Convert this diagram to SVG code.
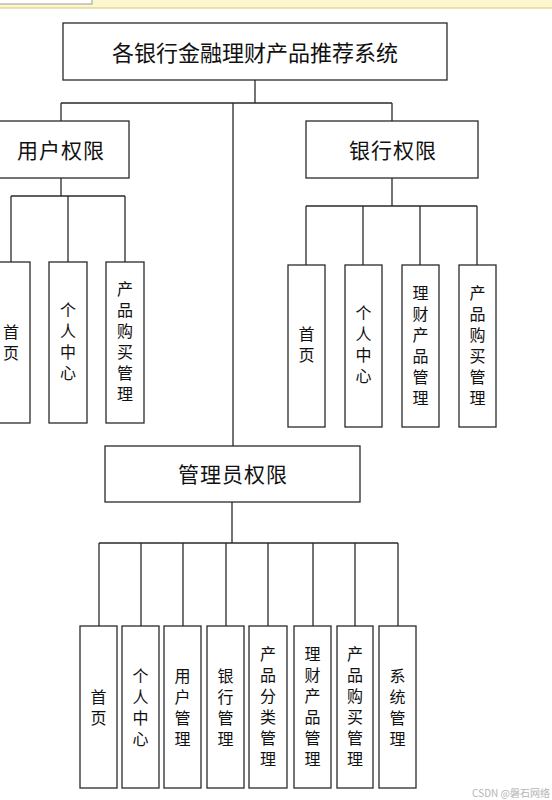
<svg xmlns="http://www.w3.org/2000/svg" width="552" height="800" viewBox="0 0 552 800">
<style>
.box{fill:#fff;stroke:#2a2a2a;stroke-width:1.3}
.ln{fill:none;stroke:#2a2a2a;stroke-width:1.3}
.t{font-family:"Noto Sans CJK SC","Noto Sans",sans-serif;fill:#111;text-anchor:middle;dominant-baseline:central}
.big{font-size:21px;letter-spacing:1px}
.v{font-family:"Noto Sans CJK SC","Noto Sans",sans-serif;fill:#111;font-size:16px;letter-spacing:5px;writing-mode:vertical-rl;text-anchor:middle}
</style>
<rect x="0" y="0" width="552" height="800" fill="#fff"/>
<rect x="0" y="0" width="552" height="8" fill="#fdf7cf"/>
<line x1="0" y1="8" x2="552" y2="8" stroke="#d9c670" stroke-width="1"/>
<rect x="-1" y="-1" width="93" height="5" fill="#fff" stroke="#999" stroke-width="1"/>

<g id="connectors">
<path class="ln" d="M255 80V103M61 103H392M61 103V121M392 103V121M233 103V446"/>
<path class="ln" d="M61 178V196M11 196H125M11 196V262M68 196V262M125 196V262"/>
<path class="ln" d="M392 178V206M306 206H477M306 206V265M363 206V265M420 206V265M477 206V265"/>
<path class="ln" d="M232 502V543M99 543H398M99 543V626M141 543V626M183 543V626M226 543V626M268 543V626M313 543V626M355 543V626M398 543V626"/>
</g>

<g id="root"><rect class="box" x="63" y="23" width="384" height="57"/><text class="t" x="255" y="51" font-size="22">各银行金融理财产品推荐系统</text></g>

<g id="user"><rect class="box" x="-8" y="121" width="137" height="57"/><text class="t big" x="61" y="149">用户权限</text></g>
<g id="bank"><rect class="box" x="306" y="121" width="172" height="57"/><text class="t big" x="393" y="149">银行权限</text></g>
<g id="admin"><rect class="box" x="105" y="446" width="255" height="56"/><text class="t big" x="233" y="473">管理员权限</text></g>

<g id="u1"><rect class="box" x="-8" y="262" width="38" height="161"/><text class="v" x="11" y="345">首页</text></g>
<g id="u2"><rect class="box" x="49" y="262" width="38" height="161"/><text class="v" x="68" y="344">个人中心</text></g>
<g id="u3"><rect class="box" x="106" y="262" width="38" height="161"/><text class="v" x="125" y="344">产品购买管理</text></g>

<g id="b1"><rect class="box" x="288" y="265" width="37" height="162"/><text class="v" x="306.5" y="347">首页</text></g>
<g id="b2"><rect class="box" x="345" y="265" width="37" height="162"/><text class="v" x="363.5" y="347">个人中心</text></g>
<g id="b3"><rect class="box" x="402" y="265" width="37" height="162"/><text class="v" x="420.5" y="348">理财产品管理</text></g>
<g id="b4"><rect class="box" x="459" y="265" width="37" height="162"/><text class="v" x="477.5" y="348">产品购买管理</text></g>

<g id="a1"><rect class="box" x="80" y="626" width="37" height="162"/><text class="v" x="98.5" y="710">首页</text></g>
<g id="a2"><rect class="box" x="122" y="626" width="37" height="162"/><text class="v" x="140.5" y="710">个人中心</text></g>
<g id="a3"><rect class="box" x="164" y="626" width="37" height="162"/><text class="v" x="182.5" y="710">用户管理</text></g>
<g id="a4"><rect class="box" x="207" y="626" width="37" height="162"/><text class="v" x="225.5" y="710">银行管理</text></g>
<g id="a5"><rect class="box" x="249" y="626" width="38" height="162"/><text class="v" x="268" y="709">产品分类管理</text></g>
<g id="a6"><rect class="box" x="294" y="626" width="37" height="162"/><text class="v" x="312.5" y="709">理财产品管理</text></g>
<g id="a7"><rect class="box" x="337" y="626" width="36" height="162"/><text class="v" x="355" y="709">产品购买管理</text></g>
<g id="a8"><rect class="box" x="379" y="626" width="37" height="162"/><text class="v" x="397.5" y="710">系统管理</text></g>

<text x="550" y="792" font-family="&quot;Noto Sans CJK SC&quot;,&quot;Noto Sans&quot;,sans-serif" font-size="10" fill="#b5b5b5" text-anchor="end" dominant-baseline="central">CSDN @磐石网络</text>
</svg>
